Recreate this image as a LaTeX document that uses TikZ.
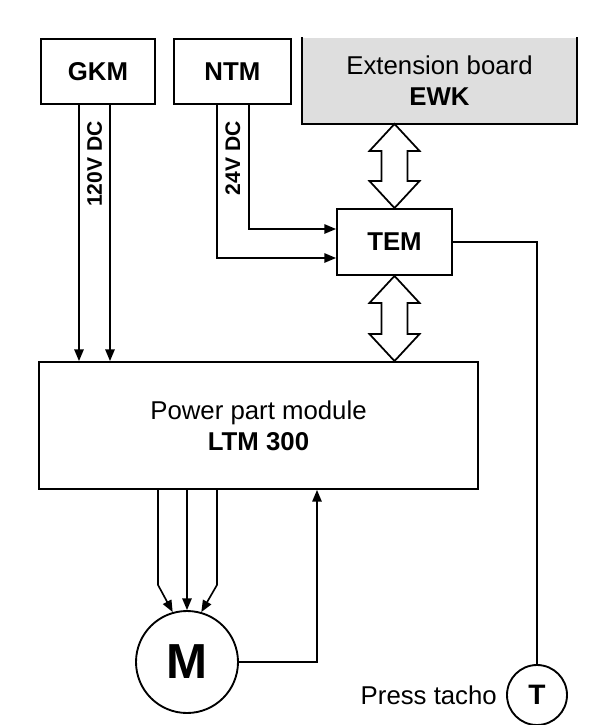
\documentclass[tikz,border=0pt]{standalone}
\usepackage{fontspec}
\setmainfont{Liberation Sans}
\usetikzlibrary{positioning, arrows.meta, calc}
\newcommand{\busarrow}[2]{%
  \draw[bus] (#1) -- ++(-25,27) -- ++(12,0) -- ($(#2)+(-13,-27)$) -- ++(-12,0) -- (#2)
    -- ++(25,-27) -- ++(-12,0) -- ($(#1)+(13,27)$) -- ++(12,0) -- cycle;}

\begin{document}
\begin{tikzpicture}[x=0.03cm, y=-0.03cm, >={Triangle[length=10pt, width=8pt]},
    block/.style={draw, line width=1.6pt, align=center, inner sep=0pt,
      font=\fontsize{22}{27}\selectfont},
    wire/.style={line width=1.4pt},
    volt/.style={rotate=90, inner sep=0pt, font=\fontsize{18}{20}\selectfont\bfseries},
    bus/.style={draw, line width=1.5pt, fill=white, line join=miter}]
  \useasboundingbox (0,0) rectangle (616,725);
  \node[block, minimum width=3.42cm, minimum height=1.95cm] (gkm) at (98,71.5) {\textbf{GKM}};
  \node[block, minimum width=3.51cm, minimum height=1.95cm, right=0.51cm of gkm] (ntm) {\textbf{NTM}};
  \node[block, draw=none, fill=black!13, minimum width=8.19cm, minimum height=2.55cm] (ewk)
    at (439.5,80.5) {Extension board\\\textbf{EWK}};
  \draw[line width=1.6pt] (ewk.north west) -- (ewk.south west) -- (ewk.south east) -- (ewk.north east);
  \node[block, minimum width=3.45cm, minimum height=1.98cm] (tem) at (394.5,242) {\textbf{TEM}};
  \node[block, minimum width=13.17cm, minimum height=3.81cm, text depth=-0.35cm] (ltm) at (258.5,425.5)
    {Power part module\\\textbf{LTM 300}};
  \node[block, circle, minimum size=3.06cm, font=\fontsize{42}{42}\selectfont\bfseries] (motor) at (187,662) {M};
  \node[block, circle, minimum size=1.8cm, font=\fontsize{24}{24}\selectfont\bfseries] (tacho) at (537,695) {T};
  \node[inner sep=0pt, font=\fontsize{22}{26}\selectfont, left=0.27cm of tacho] (tachotxt) {Press tacho};
  % supplies
  \coordinate (g1) at ($(gkm.south)+(-19,0)$);
  \coordinate (g2) at ($(gkm.south)+(12,0)$);
  \draw[wire, ->] (g1) -- (g1 |- ltm.north);
  \draw[wire, ->] (g2) -- (g2 |- ltm.north);
  \node[volt, anchor=east] (v120) at ($(g1)!0.5!(g2)+(0,16)$) {120V DC};
  \coordinate (n1) at ($(ntm.south)+(-15.5,0)$);
  \coordinate (n2) at ($(ntm.south)+(16.5,0)$);
  \coordinate (t1) at ($(tem.west)+(0,-13)$);
  \coordinate (t2) at ($(tem.west)+(0,16)$);
  \draw[wire, ->] (n2) |- (t1);
  \draw[wire, ->] (n1) |- (t2);
  \node[volt, anchor=east] (v24) at ($(n1)!0.5!(n2)+(0,16)$) {24V DC};
  % buses
  \coordinate (busa) at (tem.north |- ewk.south);
  \coordinate (busb) at (tem.south |- ltm.north);
  \busarrow{busa}{tem.north}
  \busarrow{tem.south}{busb}
  % motor and tacho
  \coordinate (m1) at ($(ltm.south -| motor)+(-29,0)$);
  \coordinate (m2) at (ltm.south -| motor);
  \coordinate (m3) at ($(ltm.south -| motor)+(30,0)$);
  \draw[wire, ->] (m1) -- ++(0,95) -- (motor.106);
  \draw[wire, ->] (m2) -- (motor.north);
  \draw[wire, ->] (m3) -- ++(0,95) -- (motor.74);
  \coordinate (fb) at ($(ltm.south)+(58.5,0)$);
  \draw[wire, ->] (motor.east) -| (fb);
  \draw[wire] (tem.east) -| (tacho.north);
\end{tikzpicture}
\end{document}
